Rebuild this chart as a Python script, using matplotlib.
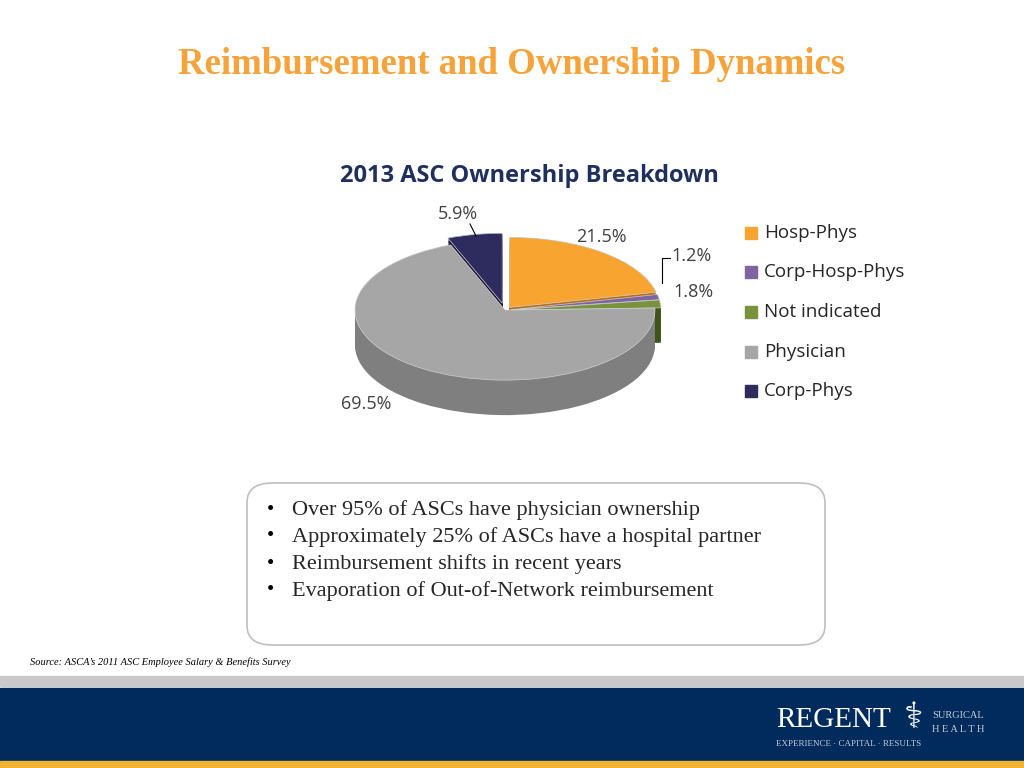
import matplotlib
matplotlib.use("Agg")
import matplotlib.pyplot as plt
from matplotlib.patches import FancyBboxPatch, Rectangle
import numpy as np

labels = ["Hosp-Phys", "Corp-Hosp-Phys", "Not indicated", "Physician", "Corp-Phys"]
shares = [21.5, 1.2, 1.8, 69.5, 5.9]
top_colors = ["#F7A530", "#8064A2", "#77933C", "#A6A6A6", "#2E2B5F"]
side_colors = ["#B86E10", "#4E3A70", "#3E5418", "#7F7F7F", "#1B1838"]
explode = [0.05, 0.04, 0.04, 0.0, 0.10]
bullets = ["Over 95% of ASCs have physician ownership",
           "Approximately 25% of ASCs have a hospital partner",
           "Reimbursement shifts in recent years",
           "Evaporation of Out-of-Network reimbursement"]

W, H = 1024, 768
fig = plt.figure(figsize=(W / 100, H / 100), dpi=100)


def fx(px):
    return px / W


def fy(py):
    return 1 - py / H


fig.text(fx(512), fy(65), "Reimbursement and Ownership Dynamics", color="#F5A33A",
         fontsize=26.5, fontweight="bold", family="Liberation Serif", ha="center", va="center")
fig.text(fx(529), fy(176), "2013 ASC Ownership Breakdown", color="#1F2F5E",
         fontsize=17, fontweight="bold", family="Open Sans", ha="center", va="center")

# pie axes: x 330..680 px, y 215..455 px
ax = fig.add_axes([fx(330), fy(455), fx(350), (455 - 215) / H])
depth = 0.5
for z in np.linspace(-depth, 0, 25):
    ax.pie(shares, colors=side_colors, explode=explode, startangle=90, counterclock=False,
           center=(0, z), radius=1, wedgeprops=dict(linewidth=0))
ax.pie(shares, colors=top_colors, explode=explode, startangle=90, counterclock=False,
       center=(0, 0), radius=1, wedgeprops=dict(linewidth=0.5, edgecolor="#D0D0D0"))
ax.set_aspect("auto")
ax.set_xlim(-1.167, 1.167)
ax.set_ylim(-2.07, 1.36)
ax.axis("off")

lab_font = dict(fontsize=13, family="Open Sans", color="#404040", va="center")
fig.text(fx(438), fy(214), "5.9%", **lab_font)
fig.text(fx(576), fy(237), "21.5%", **lab_font)
fig.text(fx(671), fy(256), "1.2%", **lab_font)
fig.text(fx(673), fy(292), "1.8%", **lab_font)
fig.text(fx(341), fy(404), "69.5%", **lab_font)
fig.add_artist(plt.Line2D([fx(470), fx(476)], [fy(224), fy(236)], color="black", lw=0.8))
fig.add_artist(plt.Line2D([fx(670), fx(662), fx(662)], [fy(258), fy(258), fy(283)], color="black", lw=0.8))

for i, lab in enumerate(labels):
    y = 233 + i * 39.5
    fig.add_artist(Rectangle((fx(745), fy(y + 6)), fx(12), 12 / H, color=top_colors[i]))
    fig.text(fx(764), fy(y), lab, fontsize=13.5, family="Open Sans", color="#262626", va="center")

box = FancyBboxPatch((fx(247), fy(645)), fx(578), (645 - 483) / H,
                     boxstyle="round,pad=0,rounding_size=0.025", transform=fig.transFigure,
                     facecolor="white", edgecolor="#BFBFBF", lw=1.2)
fig.add_artist(box)
for i, b in enumerate(bullets):
    y = 510 + i * 27
    fig.text(fx(267), fy(y), "\u2022", fontsize=15, family="Liberation Serif", va="center")
    fig.text(fx(292), fy(y), b, fontsize=16, family="Liberation Serif", color="#262626", va="center")

fig.text(fx(30), fy(662), "Source: ASCA\u2019s 2011 ASC Employee Salary & Benefits Survey",
         fontsize=7.5, style="italic", family="Liberation Serif", va="center")

# footer
fig.add_artist(Rectangle((0, fy(686)), 1, 10 / H, color="#C9C9C9", transform=fig.transFigure))
fig.add_artist(Rectangle((0, fy(768)), 1, (768 - 688) / H, color="#002B5C", transform=fig.transFigure))
fig.add_artist(Rectangle((0, fy(768)), 1, 7 / H, color="#F2B233", transform=fig.transFigure))
fig.text(fx(776), fy(720), "REGENT", fontsize=21, family="Liberation Serif", color="white", va="center")
fig.text(fx(914), fy(718), "\u2695", fontsize=26, family="DejaVu Sans", color="white", va="center", ha="center")
fig.text(fx(932), fy(716), "SURGICAL", fontsize=7.5, family="Liberation Serif", color="#C8CCD6", va="center")
fig.text(fx(932), fy(729), "H E A L T H", fontsize=7.5, family="Liberation Serif", color="#C8CCD6", va="center")
fig.text(fx(776), fy(744), "EXPERIENCE \u00b7 CAPITAL \u00b7 RESULTS", fontsize=6.5,
         family="Liberation Serif", color="#C8CCD6", va="center")

fig.savefig("out.png", dpi=100)
